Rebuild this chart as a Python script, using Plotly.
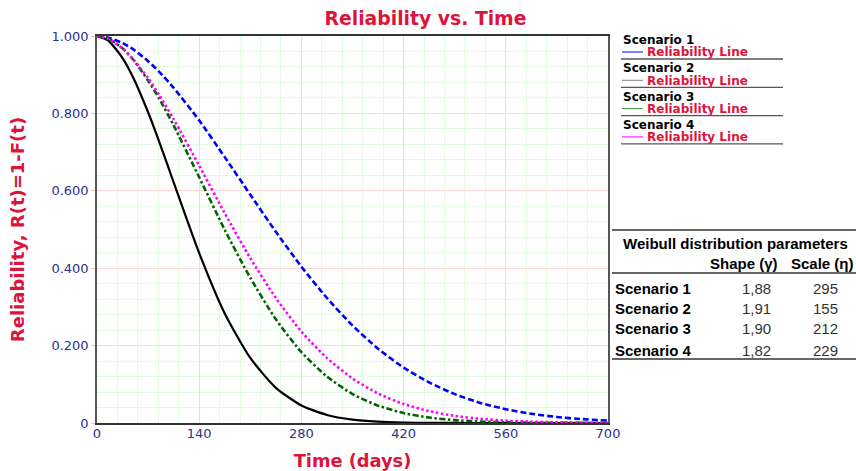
import plotly.graph_objects as go

# ---- data ----
t_days = [0, 15, 35, 50, 70, 85, 105, 140, 175, 210, 245, 280, 315, 350, 385, 420, 455,
          490, 525, 560, 595, 630, 665, 700]
r_scenario1 = [1.000, 0.996, 0.982, 0.965, 0.935, 0.908, 0.866, 0.782, 0.687, 0.590,
               0.494, 0.404, 0.323, 0.252, 0.192, 0.143, 0.105, 0.0746, 0.0520, 0.0356,
               0.0238, 0.0156, 0.0100, 0.0062]
r_scenario2 = [1.000, 0.989, 0.943, 0.891, 0.803, 0.728, 0.622, 0.439, 0.283, 0.168,
               0.0909, 0.0453, 0.0208, 0.0088, 0.0034, 0.0012, 0.0004, 0.0001, 0.0, 0.0,
               0.0, 0.0, 0.0, 0.0]
r_scenario3 = [1.000, 0.994, 0.968, 0.938, 0.885, 0.839, 0.769, 0.635, 0.499, 0.375,
               0.268, 0.183, 0.120, 0.0748, 0.0448, 0.0256, 0.0140, 0.0074, 0.0037,
               0.0018, 0.0008, 0.0004, 0.0002, 0.0001]
r_scenario4 = [1.000, 0.993, 0.968, 0.939, 0.891, 0.848, 0.785, 0.665, 0.542, 0.426,
               0.323, 0.236, 0.168, 0.115, 0.0762, 0.0490, 0.0305, 0.0184, 0.0108,
               0.0062, 0.0034, 0.0018, 0.0010, 0.0005]

scenario_names = ["Scenario 1", "Scenario 2", "Scenario 3", "Scenario 4"]
shape_vals = ["1,88", "1,91", "1,90", "1,82"]
scale_vals = ["295", "155", "212", "229"]
x_tick_vals = [0, 140, 280, 420, 560, 700]
x_tick_text = ["0", "140", "280", "420", "560", "700"]
y_tick_vals = [0, 0.2, 0.4, 0.6, 0.8, 1.0]
y_tick_text = ["0", "0.200", "0.400", "0.600", "0.800", "1.000"]

# ---- layout geometry (pixels) ----
W, H = 856, 471
PL, PR, PT, PB = 97, 608, 36, 423
def px(x):
    return (x - PL) / (PR - PL)
def py(y):
    return (PB - y) / (PB - PT)

CRIMSON = "#dc143c"
NAVY = "#2e3192"
FONT = "DejaVu Sans"
TFONT = "Liberation Sans"

fig = go.Figure()
series = [
    (r_scenario1, "#0000ff", "6px,3px", 2.6),
    (r_scenario2, "#000000", "solid", 2.2),
    (r_scenario3, "#006400", "6px,2.5px,2.5px,2.5px", 2.6),
    (r_scenario4, "#ff00ff", "2.5px,2.5px", 2.6),
]
for vals, col, dash, w in series:
    fig.add_trace(go.Scatter(x=t_days, y=vals, mode="lines",
                             line=dict(color=col, width=w, dash=dash, shape="spline",
                                       smoothing=0.6),
                             showlegend=False, hoverinfo="skip"))

annotations = []
shapes = []

# custom legend
legend_sample_cols = ["#0000ff", "#808080", "#339933", "#ff00ff"]
for i, name in enumerate(scenario_names):
    base = 40 + i * 28.3
    annotations.append(dict(x=px(621), y=py(base), xref="paper", yref="paper",
                            text="<b>%s</b>" % name, showarrow=False, xanchor="left",
                            yanchor="middle", font=dict(family=FONT, size=12, color="#000000")))
    annotations.append(dict(x=px(645), y=py(base + 12.5), xref="paper", yref="paper",
                            text="<b>Reliability Line</b>", showarrow=False, xanchor="left",
                            yanchor="middle", font=dict(family=FONT, size=12, color=CRIMSON)))
    shapes.append(dict(type="line", xref="paper", yref="paper",
                       x0=px(622), x1=px(643), y0=py(base + 12), y1=py(base + 12),
                       line=dict(color=legend_sample_cols[i], width=1)))
    shapes.append(dict(type="line", xref="paper", yref="paper",
                       x0=px(621), x1=px(783), y0=py(base + 19), y1=py(base + 19),
                       line=dict(color="#555555", width=1.3)))

# parameter table
for yline in [230, 273, 359]:
    shapes.append(dict(type="line", xref="paper", yref="paper",
                       x0=px(612), x1=px(856), y0=py(yline), y1=py(yline),
                       line=dict(color="#333333", width=1.6)))
TS = 15
annotations.append(dict(x=px(735), y=py(244), xref="paper", yref="paper",
                        text="<b>Weibull distribution parameters</b>", showarrow=False,
                        xanchor="center", yanchor="middle",
                        font=dict(family=TFONT, size=TS, color="#000000")))
annotations.append(dict(x=px(744), y=py(263), xref="paper", yref="paper",
                        text="<b>Shape (γ)</b>", showarrow=False, xanchor="center",
                        yanchor="middle", font=dict(family=TFONT, size=TS, color="#000000")))
annotations.append(dict(x=px(856), y=py(263), xref="paper", yref="paper",
                        text="<b>Scale (η)</b>", showarrow=False, xanchor="right",
                        yanchor="middle", font=dict(family=TFONT, size=TS, color="#000000")))
row_y = [288, 308, 328, 350]
for i, name in enumerate(scenario_names):
    annotations.append(dict(x=px(613), y=py(row_y[i]), xref="paper", yref="paper",
                            text="<b>%s</b>" % name, showarrow=False, xanchor="left",
                            yanchor="middle", font=dict(family=TFONT, size=TS, color="#000000")))
    annotations.append(dict(x=px(756), y=py(row_y[i]), xref="paper", yref="paper",
                            text=shape_vals[i], showarrow=False, xanchor="center",
                            yanchor="middle", font=dict(family=TFONT, size=TS, color="#333333")))
    annotations.append(dict(x=px(825), y=py(row_y[i]), xref="paper", yref="paper",
                            text=scale_vals[i], showarrow=False, xanchor="center",
                            yanchor="middle", font=dict(family=TFONT, size=TS, color="#333333")))

fig.update_layout(
    width=W, height=H,
    margin=dict(l=PL, r=W - PR, t=PT, b=H - PB, pad=0),
    paper_bgcolor="white", plot_bgcolor="white",
    title=dict(text="<b>Reliability vs. Time</b>", x=px(351), xanchor="center",
               y=1 - 18 / H, yanchor="middle",
               font=dict(family=FONT, size=18.8, color=CRIMSON)),
    xaxis=dict(range=[0, 700], tickvals=x_tick_vals, ticktext=x_tick_text,
               tickfont=dict(family=FONT, size=13, color=NAVY),
               showgrid=True, gridcolor="#ffd4d4", gridwidth=1,
               minor=dict(dtick=28, showgrid=True, gridcolor="#e2fbe2", gridwidth=1),
               showline=True, linecolor="#333333", linewidth=1.5, mirror=True,
               ticks="", zeroline=False, automargin=False, ticklabelstandoff=-2,
               title=dict(text="<b>Time (days)</b>", standoff=21,
                          font=dict(family=FONT, size=17.8, color=CRIMSON))),
    yaxis=dict(range=[0, 1.0], tickvals=y_tick_vals, ticktext=y_tick_text,
               tickfont=dict(family=FONT, size=13, color=NAVY),
               showgrid=True, gridcolor="#ffd4d4", gridwidth=1,
               minor=dict(dtick=0.04, showgrid=True, gridcolor="#e2fbe2", gridwidth=1),
               showline=True, linecolor="#555555", linewidth=1.5, mirror=True,
               ticks="outside", ticklen=4, tickcolor="#ffbbbb", zeroline=False,
               automargin=False,
               title=dict(text="<b>Reliability, R(t)=1-F(t)</b>", standoff=22,
                          font=dict(family=FONT, size=18, color=CRIMSON))),
    annotations=annotations,
    shapes=shapes,
)

fig.write_html("out.html", config={"displayModeBar": False},
               post_script="document.body.style.margin='0';document.body.style.overflow='hidden';")
